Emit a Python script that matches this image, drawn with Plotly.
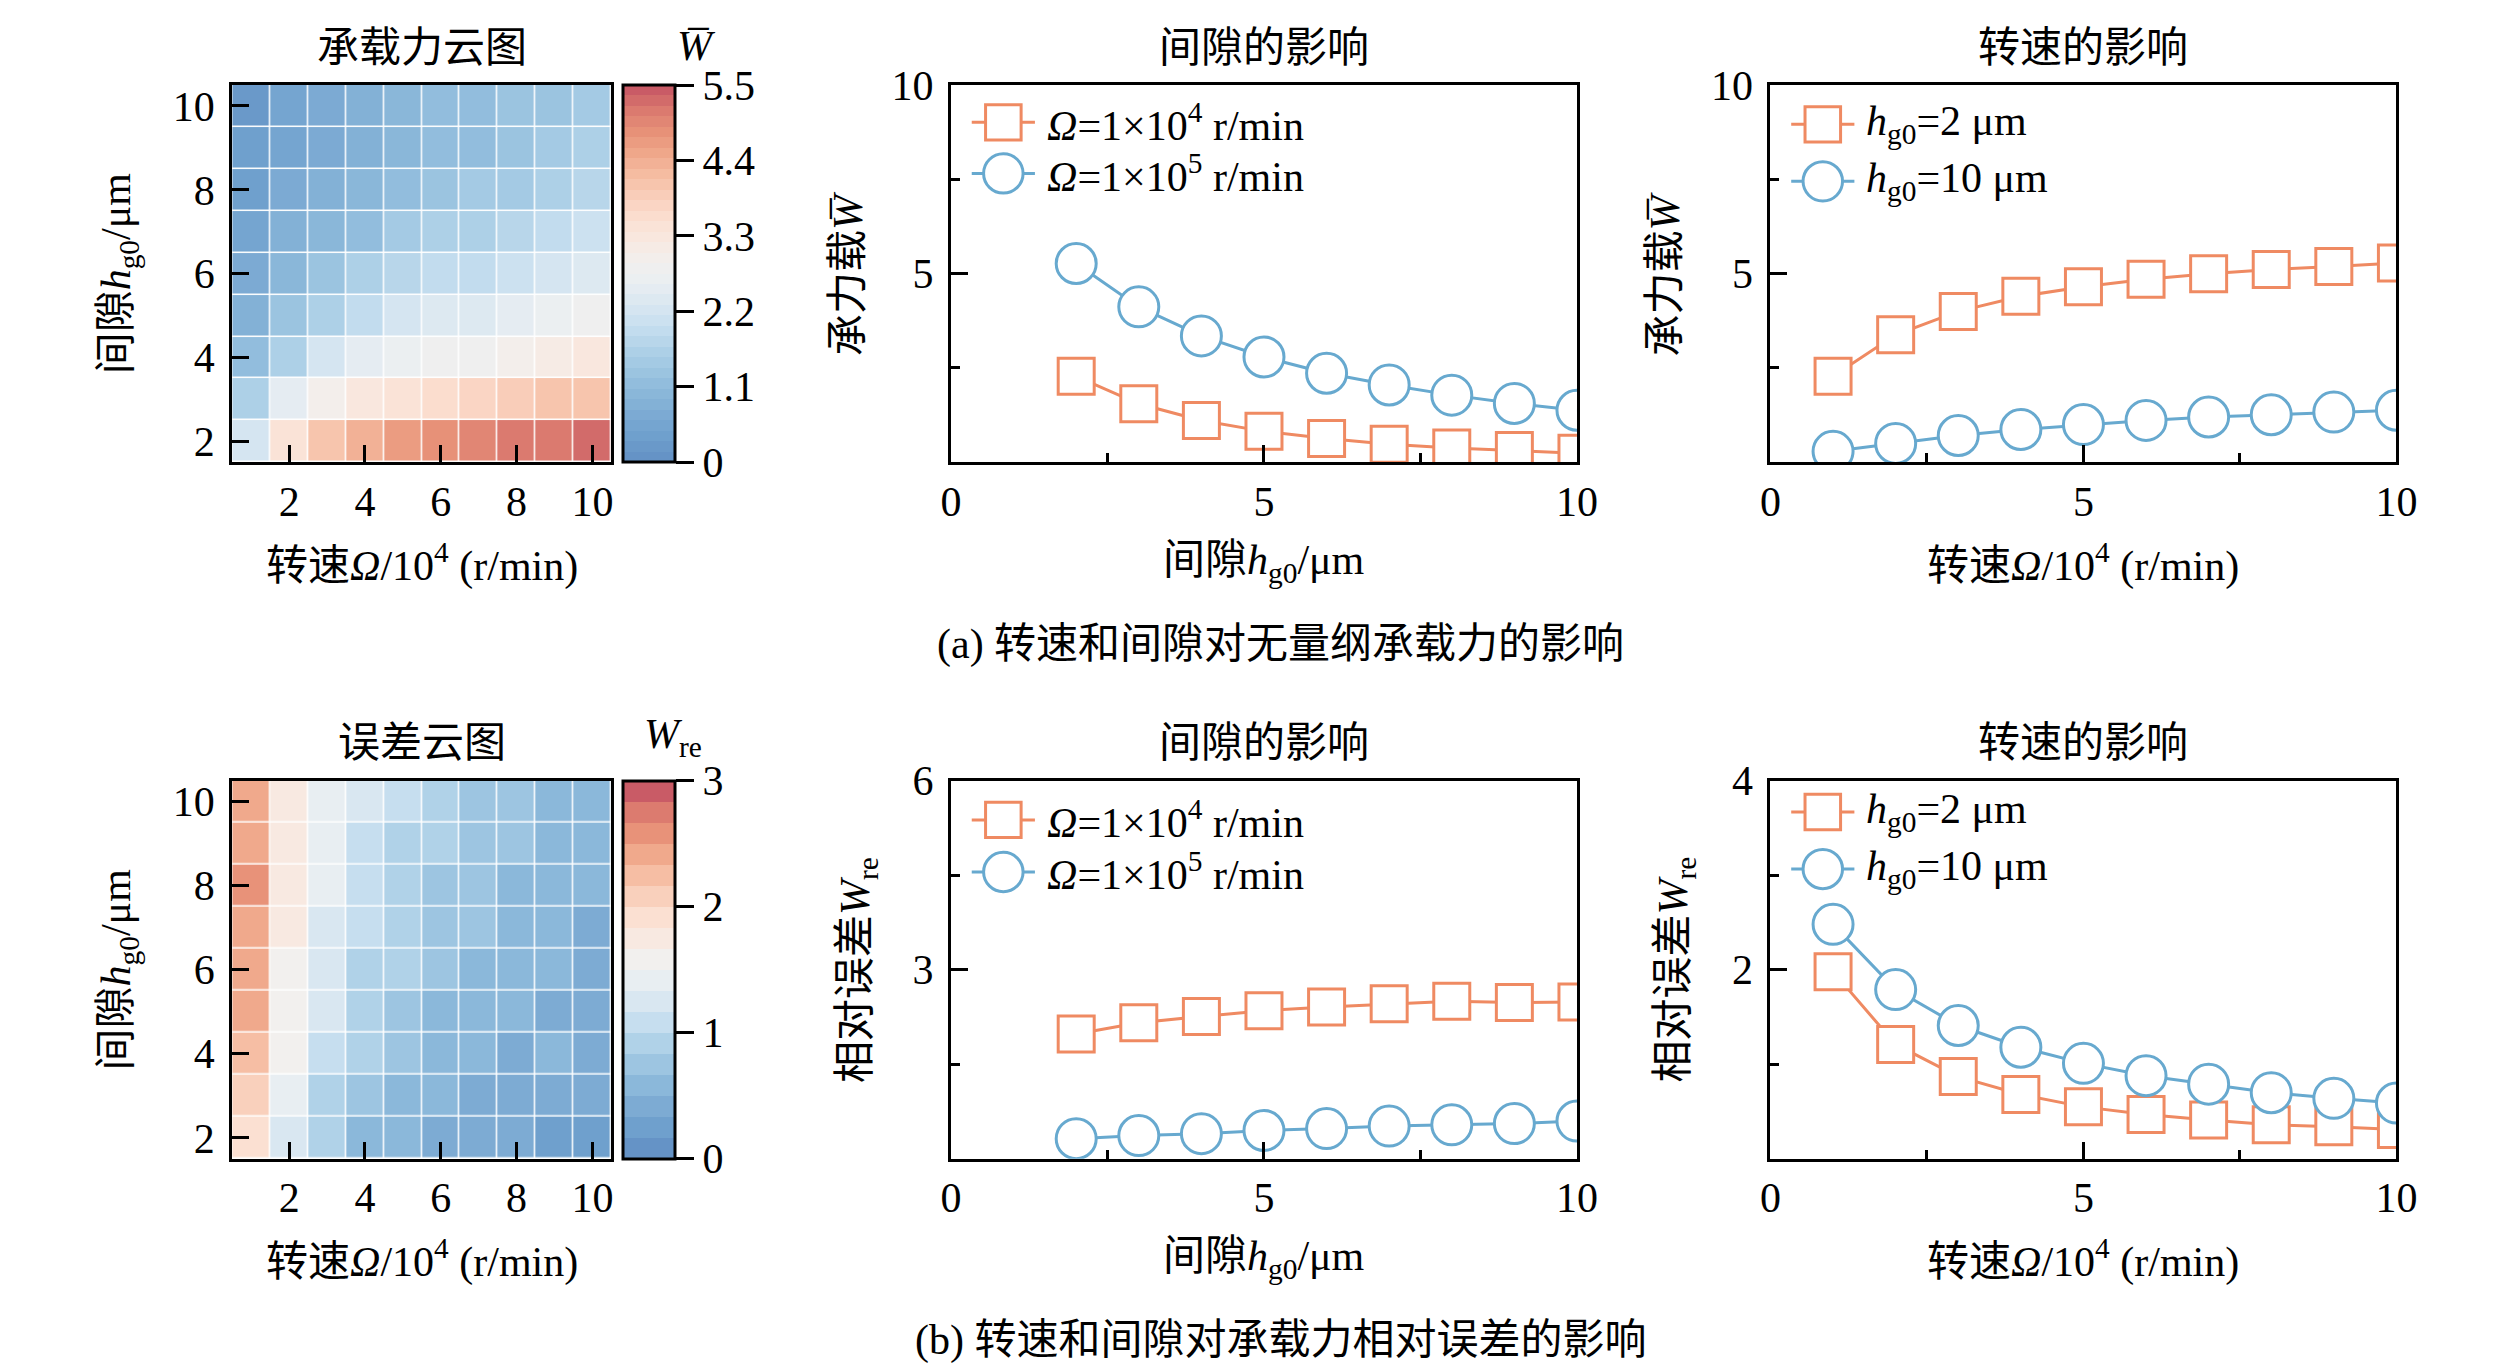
import plotly.graph_objects as go

FIG_W, FIG_H = 2520, 1370
FONT = "Liberation Serif, Noto Sans CJK SC"
FS = 42
ORANGE = "#ef8a62"
BLUE = "#67a9cf"

# ---------------- data ----------------
speed = [1, 2, 3, 4, 5, 6, 7, 8, 9, 10]      # Ω / 1e4 r/min
gap = [2, 3, 4, 5, 6, 7, 8, 9, 10]           # h_g0 / μm

# load-capacity map W (rows: gap 2..10, cols: speed 1..10)
w_h2 = [2.28, 3.38, 4.00, 4.40, 4.65, 4.85, 5.00, 5.11, 5.19, 5.28]
w_h3 = [1.55, 2.45, 3.00, 3.30, 3.50, 3.60, 3.75, 3.85, 4.00, 4.12]
w_h4 = [1.11, 1.65, 2.20, 2.50, 2.65, 2.80, 2.90, 3.00, 3.15, 3.35]
w_h5 = [0.82, 1.25, 1.60, 1.95, 2.15, 2.30, 2.40, 2.50, 2.65, 2.79]
w_h6 = [0.63, 1.00, 1.25, 1.55, 1.80, 1.90, 1.98, 2.05, 2.20, 2.36]
w_h7 = [0.48, 0.80, 1.00, 1.20, 1.45, 1.55, 1.65, 1.78, 1.90, 2.05]
w_h8 = [0.38, 0.70, 0.85, 1.00, 1.15, 1.28, 1.40, 1.52, 1.62, 1.78]
w_h9 = [0.31, 0.60, 0.75, 0.90, 1.00, 1.10, 1.20, 1.35, 1.45, 1.56]
w_h10 = [0.29, 0.50, 0.71, 0.87, 1.00, 1.11, 1.20, 1.26, 1.33, 1.38]

# relative error map W_re
e_h2 = [1.98, 1.21, 0.87, 0.62, 0.55, 0.47, 0.41, 0.36, 0.32, 0.31]
e_h3 = [2.16, 1.45, 0.92, 0.78, 0.65, 0.62, 0.48, 0.47, 0.46, 0.45]
e_h4 = [2.26, 1.50, 1.10, 0.90, 0.75, 0.62, 0.60, 0.48, 0.55, 0.48]
e_h5 = [2.35, 1.58, 1.22, 0.92, 0.80, 0.65, 0.62, 0.60, 0.48, 0.46]
e_h6 = [2.41, 1.62, 1.25, 0.95, 0.90, 0.75, 0.63, 0.60, 0.58, 0.48]
e_h7 = [2.46, 1.75, 1.28, 1.10, 0.90, 0.76, 0.72, 0.62, 0.60, 0.48]
e_h8 = [2.50, 1.76, 1.38, 1.12, 0.92, 0.78, 0.74, 0.62, 0.60, 0.60]
e_h9 = [2.48, 1.77, 1.40, 1.15, 0.95, 0.87, 0.78, 0.74, 0.64, 0.62]
e_h10 = [2.48, 1.79, 1.41, 1.18, 1.01, 0.88, 0.79, 0.70, 0.64, 0.59]

# line charts
gap_W_1e4 = [2.28, 1.55, 1.11, 0.82, 0.63, 0.48, 0.38, 0.31, 0.24]
gap_W_1e5 = [5.27, 4.12, 3.35, 2.79, 2.36, 2.05, 1.78, 1.56, 1.38]
speed_W_h2 = [2.28, 3.38, 4.00, 4.40, 4.65, 4.85, 5.00, 5.11, 5.19, 5.28]
speed_W_h10 = [0.29, 0.50, 0.71, 0.87, 1.00, 1.11, 1.20, 1.26, 1.33, 1.38]

gap_E_1e4 = [1.98, 2.16, 2.26, 2.35, 2.41, 2.46, 2.50, 2.48, 2.49]
gap_E_1e5 = [0.32, 0.37, 0.40, 0.45, 0.48, 0.52, 0.54, 0.56, 0.60]
speed_E_h2 = [1.98, 1.21, 0.87, 0.68, 0.55, 0.47, 0.41, 0.36, 0.34, 0.31]
speed_E_h10 = [2.48, 1.79, 1.41, 1.18, 1.01, 0.88, 0.79, 0.70, 0.64, 0.59]

W_ticks = [0, 1.1, 2.2, 3.3, 4.4, 5.5]
E_ticks = [0, 1, 2, 3]

# colour bands, low -> high
band_colors = ["#6593c6", "#6fa0cd", "#7dabd3", "#8bb8da", "#9dc5e1", "#b0d2e8",
               "#c6deef", "#d9e7f1", "#e8eef2", "#f2f0ee", "#f8e9e1", "#fbe0d2",
               "#f9d0bc", "#f6bea4", "#f0a98c", "#e89279", "#dc7b6f", "#c95b66"]


def hex_rgb(h):
    return tuple(int(h[i:i + 2], 16) for i in (1, 3, 5))


def stepped_scale(colors, n):
    rgb = [hex_rgb(c) for c in colors]
    scale = []
    for i in range(n):
        t = i / (n - 1) * (len(rgb) - 1)
        k = min(int(t), len(rgb) - 2)
        f = t - k
        c = [round(a + (b - a) * f) for a, b in zip(rgb[k], rgb[k + 1])]
        col = "rgb(%d,%d,%d)" % tuple(c)
        scale.append([i / n, col])
        scale.append([(i + 1) / n, col])
    return scale


def fx(px):
    return px / FIG_W


def fy(py):
    return 1 - py / FIG_H


# pixel boxes of the panels
COLS = [(216, 600), (944, 1578), (1774, 2408)]
ROWS = [(56, 440), (764, 1149)]
CBAR_X = 612

fig = go.Figure()

# ---------- heatmaps ----------
W_grid = [w_h2, w_h3, w_h4, w_h5, w_h6, w_h7, w_h8, w_h9, w_h10]
E_grid = [e_h2, e_h3, e_h4, e_h5, e_h6, e_h7, e_h8, e_h9, e_h10]


def cbar(row, ticks):
    top, bot = ROWS[row]
    return dict(x=fx(CBAR_X), xanchor="left", y=fy((top + bot) / 2), yanchor="middle",
                len=(bot - top) / FIG_H, lenmode="fraction", thickness=52,
                thicknessmode="pixels", outlinewidth=3, outlinecolor="black",
                ticks="outside", ticklen=18, tickwidth=3, tickcolor="black",
                tickvals=ticks, ticktext=[str(t) for t in ticks],
                tickfont=dict(size=FS, color="black"), xpad=0, ypad=0)


fig.add_trace(go.Heatmap(x=speed, y=gap, z=W_grid, zmin=0, zmax=5.5,
                         colorscale=stepped_scale(band_colors, 36), xgap=1.5, ygap=1.5,
                         colorbar=cbar(0, W_ticks), xaxis="x", yaxis="y",
                         hoverinfo="skip"))
fig.add_trace(go.Heatmap(x=speed, y=gap, z=E_grid, zmin=0, zmax=3,
                         colorscale=stepped_scale(band_colors, 18), xgap=1.5, ygap=1.5,
                         colorbar=cbar(1, E_ticks), xaxis="x4", yaxis="y4",
                         hoverinfo="skip"))


# ---------- line charts ----------
def line(x, y, color, symbol, size, ax):
    return go.Scatter(x=x, y=y, mode="lines+markers", showlegend=False,
                      line=dict(color=color, width=3),
                      marker=dict(symbol=symbol, size=size, color="white",
                                  line=dict(color=color, width=3)),
                      xaxis="x" + ax, yaxis="y" + ax, cliponaxis=True)


SQ, CI = 36, 40
fig.add_trace(line(gap, gap_W_1e4, ORANGE, "square", SQ, "2"))
fig.add_trace(line(gap, gap_W_1e5, BLUE, "circle", CI, "2"))
fig.add_trace(line(speed, speed_W_h2, ORANGE, "square", SQ, "3"))
fig.add_trace(line(speed, speed_W_h10, BLUE, "circle", CI, "3"))
fig.add_trace(line(gap, gap_E_1e4, ORANGE, "square", SQ, "5"))
fig.add_trace(line(gap, gap_E_1e5, BLUE, "circle", CI, "5"))
fig.add_trace(line(speed, speed_E_h2, ORANGE, "square", SQ, "6"))
fig.add_trace(line(speed, speed_E_h10, BLUE, "circle", CI, "6"))

# ---------- axes ----------
base = dict(showline=True, linewidth=3, linecolor="black", mirror=True,
            ticks="inside", ticklen=17, tickwidth=3, tickcolor="black",
            showgrid=False, zeroline=False, tickfont=dict(size=FS, color="black"))

axes = {}
for r in range(2):
    for c in range(3):
        n = r * 3 + c + 1
        xs = "xaxis" if n == 1 else "xaxis%d" % n
        ys = "yaxis" if n == 1 else "yaxis%d" % n
        anc = "" if n == 1 else str(n)
        xd = dict(base, domain=[fx(COLS[c][0]), fx(COLS[c][1])], anchor="y" + anc)
        yd = dict(base, domain=[fy(ROWS[r][1]), fy(ROWS[r][0])], anchor="x" + anc,
                  ticklabelstandoff=6)
        if c == 0:
            xd.update(range=[0.5, 10.5], tickvals=[2, 4, 6, 8, 10])
            yd.update(range=[1.5, 10.5], tickvals=[2, 4, 6, 8, 10])
        else:
            xd.update(range=[0, 10], tickvals=[0, 5, 10],
                      minor=dict(ticks="inside", ticklen=9, tickwidth=3,
                                 tickcolor="black", dtick=2.5, tick0=0))
            ymax = 10 if r == 0 else (6 if c == 1 else 4)
            yd.update(range=[0, ymax], tickvals=[ymax / 2, ymax],
                      minor=dict(ticks="inside", ticklen=9, tickwidth=3,
                                 tickcolor="black", dtick=ymax / 4, tick0=0))
        axes[xs] = xd
        axes[ys] = yd

# ---------- text ----------
ann = []


def text(x, y, s, angle=0, xanchor="center", size=FS):
    ann.append(dict(x=fx(x), y=fy(y), xref="paper", yref="paper", text=s,
                    showarrow=False, xanchor=xanchor, yanchor="middle",
                    textangle=angle, font=dict(size=size, color="black")))


titles = [["承载力云图", "间隙的影响", "转速的影响"],
          ["误差云图", "间隙的影响", "转速的影响"]]
xtitles = ["转速<i>Ω</i>/10<sup>4</sup> (r/min)", "间隙<i>h</i><sub>g0</sub>/μm",
           "转速<i>Ω</i>/10<sup>4</sup> (r/min)"]
ytitles = [["间隙<i>h</i><sub>g0</sub>/μm", "承力载<i>W̅</i>", "承力载<i>W̅</i>"],
           ["间隙<i>h</i><sub>g0</sub>/μm", "相对误差<i>W</i><sub>re</sub>",
            "相对误差<i>W</i><sub>re</sub>"]]
ytitle_off = [[115, 105, 107], [115, 94, 96]]

for r in range(2):
    top, bot = ROWS[r]
    for c in range(3):
        cx = (COLS[c][0] + COLS[c][1]) / 2
        text(cx, top - 38, titles[r][c])
        text(cx, bot + 102, xtitles[c])
        text(COLS[c][0] - ytitle_off[r][c], (top + bot) / 2, ytitles[r][c], angle=-90)

text(CBAR_X + 74, ROWS[0][0] - 40, "<i>W̅</i>")
text(CBAR_X + 50, ROWS[1][0] - 44, "<i>W</i><sub>re</sub>")
text(1278, ROWS[0][1] + 185, "(a) 转速和间隙对无量纲承载力的影响")
text(1278, ROWS[1][1] + 185, "(b) 转速和间隙对承载力相对误差的影响")

# ---------- legends (drawn by hand to keep the big symbols) ----------
shapes = []
leg_W_gap = ["<i>Ω</i>=1×10<sup>4</sup> r/min", "<i>Ω</i>=1×10<sup>5</sup> r/min"]
leg_W_speed = ["<i>h</i><sub>g0</sub>=2 μm", "<i>h</i><sub>g0</sub>=10 μm"]


def legend(c, r, offsets, labels):
    left = COLS[c][0]
    top = ROWS[r][0]
    for (dy, label, color, sym) in zip(offsets, labels, [ORANGE, BLUE], ["square", "circle"]):
        y = top + dy
        shapes.append(dict(type="line", xref="paper", yref="paper",
                           x0=fx(left + 21), x1=fx(left + 85), y0=fy(y), y1=fy(y),
                           line=dict(color=color, width=3)))
        h = SQ / 2 if sym == "square" else CI / 2
        shapes.append(dict(type="rect" if sym == "square" else "circle",
                           xref="paper", yref="paper",
                           x0=fx(left + 53 - h), x1=fx(left + 53 + h),
                           y0=fy(y + h), y1=fy(y - h), fillcolor="white",
                           line=dict(color=color, width=3)))
        text(left + 95, y, label, xanchor="left")


legend(1, 0, [38, 90], leg_W_gap)
legend(2, 0, [40, 98], leg_W_speed)
legend(1, 1, [40, 93], leg_W_gap)
legend(2, 1, [32, 90], leg_W_speed)

fig.update_layout(width=FIG_W, height=FIG_H, margin=dict(l=0, r=0, t=0, b=0),
                  paper_bgcolor="white", plot_bgcolor="white",
                  font=dict(family=FONT, size=FS, color="black"),
                  annotations=ann, shapes=shapes, showlegend=False, **axes)

fig.write_html("out.html")
